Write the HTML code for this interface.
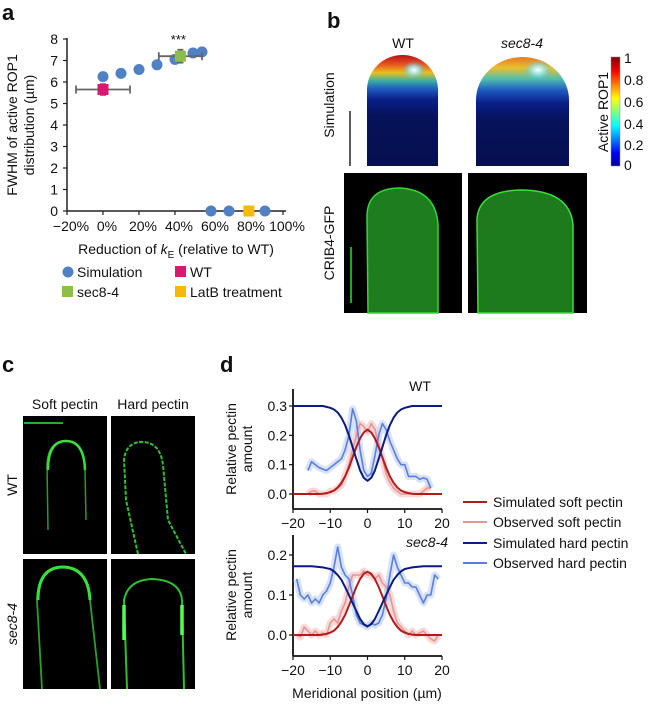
<!DOCTYPE html>
<html><head><meta charset="utf-8"><style>
body{margin:0;background:#fff;}
svg text{font-family:"Liberation Sans",Arial,sans-serif;fill:#111;}
</style></head><body>
<svg id="fig" width="654" height="703" viewBox="0 0 654 703" xmlns="http://www.w3.org/2000/svg">
<defs>
<linearGradient id="simg" x1="0" y1="0" x2="0" y2="1">
<stop offset="0" stop-color="#b5121b"/><stop offset="0.08" stop-color="#e8501c"/><stop offset="0.16" stop-color="#e8c020"/><stop offset="0.23" stop-color="#3fb0a0"/><stop offset="0.3" stop-color="#1f5fc0"/><stop offset="0.4" stop-color="#0a1f8a"/><stop offset="0.55" stop-color="#06125a"/><stop offset="1" stop-color="#06104f"/>
</linearGradient>
<linearGradient id="simg2" x1="0" y1="0" x2="0" y2="1">
<stop offset="0" stop-color="#e87a20"/><stop offset="0.1" stop-color="#e8c030"/><stop offset="0.2" stop-color="#50c0b0"/><stop offset="0.3" stop-color="#1f5fc0"/><stop offset="0.42" stop-color="#0a1f8a"/><stop offset="0.58" stop-color="#06125a"/><stop offset="1" stop-color="#06104f"/>
</linearGradient>
<radialGradient id="glow"><stop offset="0" stop-color="#ffffff"/><stop offset="0.4" stop-color="#a0f0ff" stop-opacity="0.8"/><stop offset="1" stop-color="#40c0ff" stop-opacity="0"/></radialGradient>
<linearGradient id="cbar" x1="0" y1="1" x2="0" y2="0">
<stop offset="0" stop-color="#00008f"/><stop offset="0.12" stop-color="#0000ff"/><stop offset="0.37" stop-color="#00ffff"/><stop offset="0.62" stop-color="#ffff00"/><stop offset="0.87" stop-color="#ff0000"/><stop offset="1" stop-color="#800000"/>
</linearGradient>
</defs>

<!-- Panel a -->
<g id="panel-a">
<text x="2" y="20" font-size="22" font-weight="bold">a</text>
<g id="a-axes"></g>
<text transform="translate(17,125) rotate(-90)" text-anchor="middle" font-size="14">FWHM of active ROP1</text>
<text transform="translate(34,125) rotate(-90)" text-anchor="middle" font-size="14">distribution (µm)</text>
<text x="176" y="254" text-anchor="middle" font-size="14">Reduction of <tspan font-style="italic">k</tspan><tspan font-size="10" dy="4">E</tspan><tspan dy="-4"> (relative to WT)</tspan></text>
<g>
<circle cx="68" cy="272" r="5.5" fill="#4f81c4"/>
<text x="77" y="277" font-size="14">Simulation</text>
<rect x="175" y="266" width="11" height="11" fill="#d8196f"/>
<text x="190" y="277" font-size="14">WT</text>
<rect x="62" y="286" width="11" height="11" fill="#8cbf4a"/>
<text x="77" y="297" font-size="14">sec8-4</text>
<rect x="175" y="286" width="11" height="11" fill="#f6b90a"/>
<text x="190" y="297" font-size="14">LatB treatment</text>
</g>
</g>

<!-- Panel b -->
<g id="panel-b">
<text x="327" y="28" font-size="22" font-weight="bold">b</text>
<text x="403" y="48" text-anchor="middle" font-size="14">WT</text>
<text x="522" y="48" text-anchor="middle" font-size="14" font-style="italic">sec8-4</text>
<text transform="translate(334,105) rotate(-90)" text-anchor="middle" font-size="14">Simulation</text>
<text transform="translate(334,243) rotate(-90)" text-anchor="middle" font-size="14">CRIB4-GFP</text>
<line x1="350" y1="111" x2="350" y2="166" stroke="#222" stroke-width="1.5"/>
<g>
<path d="M367,166 L367,90 A35.5,35 0 0 1 438,90 L438,166 Z" fill="url(#simg)"/>
<ellipse cx="414" cy="70" rx="12" ry="9" fill="url(#glow)"/>
</g>
<g>
<path d="M476,166 L476,100 A46.5,43 0 0 1 569,100 L569,166 Z" fill="url(#simg2)"/>
<ellipse cx="538" cy="70" rx="14" ry="10" fill="url(#glow)"/>
</g>
<rect x="611" y="57" width="9" height="109" fill="url(#cbar)" stroke="#88a" stroke-width="0.5"/>
<g font-size="14">
<text x="624" y="63">1</text><text x="624" y="85">0.8</text><text x="624" y="107">0.6</text><text x="624" y="129">0.4</text><text x="624" y="150">0.2</text><text x="624" y="170">0</text>
</g>
<text transform="translate(608,112) rotate(-90)" text-anchor="middle" font-size="14">Active ROP1</text>
<g>
<rect x="344" y="173" width="118" height="140" fill="#000"/>
<path d="M368,313 L367,215 Q368,188 400,188 Q436,190 438,225 L438,313 Z" fill="#1e7d1e" stroke="#36d636" stroke-width="1.5"/>
<line x1="351" y1="247" x2="351" y2="303" stroke="#2ee02e" stroke-width="1.5"/>
</g>
<g>
<rect x="468" y="173" width="119" height="140" fill="#000"/>
<path d="M478,313 L477,220 Q478,191 520,190 Q570,190 573,225 L573,313 Z" fill="#1d7a1d" stroke="#3ae03a" stroke-width="1.5"/>
</g>
</g>

<!-- Panel c -->
<g id="panel-c">
<text x="2" y="372" font-size="22" font-weight="bold">c</text>
<text x="65" y="409" text-anchor="middle" font-size="14">Soft pectin</text>
<text x="153" y="409" text-anchor="middle" font-size="14">Hard pectin</text>
<text transform="translate(17,485) rotate(-90)" text-anchor="middle" font-size="14">WT</text>
<text transform="translate(17,624) rotate(-90)" text-anchor="middle" font-size="14" font-style="italic">sec8-4</text>
<g>
<rect x="23" y="416" width="84" height="138" fill="#000"/>
<path d="M48,530 L47,465 Q48,441 66,441 Q84,441 85,470 L86,520" fill="none" stroke="#2a9a2a" stroke-width="1.5"/>
<path d="M48,470 Q48,441 66,441 Q84,441 85,470" fill="none" stroke="#3ae03a" stroke-width="2.5"/>
<line x1="24" y1="423" x2="63" y2="423" stroke="#3ae03a" stroke-width="1.5"/>
</g>
<g>
<rect x="111" y="416" width="84" height="138" fill="#000"/>
<path d="M138,554 L126,500 L124,460 Q126,442 142,442 Q160,442 163,465 L168,520 L186,554" fill="none" stroke="#30c030" stroke-width="2" stroke-dasharray="4 1.5"/>
</g>
<g>
<rect x="23" y="559" width="84" height="130" fill="#000"/>
<path d="M42,689 L37,600 Q38,568 62,567 Q88,567 90,600 L100,689" fill="none" stroke="#2aa02a" stroke-width="1.8"/>
<path d="M38,600 Q38,568 62,567 Q88,567 90,600" fill="none" stroke="#3ae03a" stroke-width="3"/>
</g>
<g>
<rect x="111" y="559" width="84" height="130" fill="#000"/>
<path d="M127,689 L124,600 Q128,580 152,579 Q180,580 182,600 L184,689" fill="none" stroke="#30c030" stroke-width="2"/>
<line x1="124" y1="605" x2="124" y2="640" stroke="#50ff50" stroke-width="3.5"/>
<line x1="182" y1="605" x2="182" y2="635" stroke="#50ff50" stroke-width="3.5"/>
</g>
</g>

<!-- Panel d -->
<g id="panel-d">
<text x="220" y="372" font-size="22" font-weight="bold">d</text>
<text x="420" y="391" text-anchor="middle" font-size="14">WT</text>
<text x="427" y="547" text-anchor="middle" font-size="14" font-style="italic">sec8-4</text>
<text transform="translate(236,449) rotate(-90)" text-anchor="middle" font-size="14">Relative pectin</text>
<text transform="translate(252,449) rotate(-90)" text-anchor="middle" font-size="14">amount</text>
<text transform="translate(236,595) rotate(-90)" text-anchor="middle" font-size="14">Relative pectin</text>
<text transform="translate(252,595) rotate(-90)" text-anchor="middle" font-size="14">amount</text>
<text x="367" y="698" text-anchor="middle" font-size="14">Meridional position (µm)</text>
<g id="d-top"></g><g id="d-bot"></g>
<g>
<line x1="463" y1="502" x2="487" y2="502" stroke="#b01c1c" stroke-width="2"/><text x="493" y="507" font-size="14">Simulated soft pectin</text>
<line x1="463" y1="522" x2="487" y2="522" stroke="#e89494" stroke-width="2"/><text x="493" y="527" font-size="14">Observed soft pectin</text>
<line x1="463" y1="543" x2="487" y2="543" stroke="#0c1c7e" stroke-width="2"/><text x="493" y="548" font-size="14">Simulated hard pectin</text>
<line x1="463" y1="563" x2="487" y2="563" stroke="#5a7ede" stroke-width="2"/><text x="493" y="568" font-size="14">Observed hard pectin</text>
</g>
</g>
</svg>
<script>
// ---- Panel a data ----
const simX = [0, 10, 20, 30, 40, 50, 55, 60, 70, 90];
const simY = [6.25, 6.4, 6.58, 6.8, 7.05, 7.35, 7.4, 0, 0, 0];
const wtX = [0], wtY = [5.65], wtXerr = [15], wtYerr = [0.25];
const secX = [43], secY = [7.2], secXerrLo = [12], secXerrHi = [12], secYerr = [0.3];
const latX = [81], latY = [0];
const aYTicks = [0, 1, 2, 3, 4, 5, 6, 7, 8];
const aXTicks = [-20, 0, 20, 40, 60, 80, 100];

// ---- Panel d data ----
const dSimX = [-20,-19,-18,-17,-16,-15,-14,-13,-12,-11,-10,-9,-8,-7,-6,-5,-4,-3,-2,-1,0,1,2,3,4,5,6,7,8,9,10,11,12,13,14,15,16,17,18,19,20];
const wtSimSoft = [0,0,0,0,0,0,0,0,0.001,0.003,0.006,0.012,0.022,0.038,0.06,0.09,0.125,0.16,0.19,0.21,0.22,0.21,0.19,0.16,0.125,0.09,0.06,0.038,0.022,0.012,0.006,0.003,0.001,0,0,0,0,0,0,0,0];
const wtSimHard = [0.3,0.3,0.3,0.3,0.3,0.3,0.3,0.3,0.3,0.297,0.294,0.288,0.278,0.26,0.235,0.2,0.16,0.12,0.08,0.055,0.045,0.055,0.08,0.12,0.16,0.2,0.235,0.26,0.278,0.288,0.294,0.297,0.3,0.3,0.3,0.3,0.3,0.3,0.3,0.3,0.3];
const secSimSoft = [0,0,0,0,0,0,0,0,0.001,0.003,0.006,0.011,0.02,0.033,0.05,0.073,0.097,0.12,0.14,0.153,0.158,0.153,0.14,0.12,0.097,0.073,0.05,0.033,0.02,0.011,0.006,0.003,0.001,0,0,0,0,0,0,0,0];
const secSimHard = [0.172,0.172,0.172,0.172,0.172,0.172,0.171,0.17,0.169,0.167,0.165,0.159,0.15,0.138,0.12,0.1,0.08,0.06,0.04,0.027,0.022,0.027,0.04,0.06,0.08,0.1,0.12,0.138,0.15,0.159,0.165,0.167,0.169,0.17,0.171,0.172,0.172,0.172,0.172,0.172,0.172];
const wtObsX = [-16,-15,-14,-13,-12,-11,-10,-9,-8,-7,-6,-5,-4,-3,-2,-1,0,1,2,3,4,5,6,7,8,9,10,11,12,13,14,15,16,17];
const wtObsHard = [0.08,0.11,0.1,0.09,0.085,0.08,0.09,0.1,0.11,0.12,0.15,0.2,0.29,0.25,0.15,0.08,0.06,0.07,0.13,0.2,0.24,0.22,0.18,0.15,0.12,0.1,0.1,0.06,0.06,0.06,0.05,0.055,0.05,0.02];
const wtObsSoft = [0,0.01,0.01,0,0,0,0.01,0.01,0.02,0.03,0.06,0.1,0.15,0.2,0.24,0.23,0.21,0.24,0.22,0.17,0.12,0.07,0.04,0.02,0.01,0,0,0,0,0,0,0.01,0.02,0.02];
const secObsX = [-19,-18,-17,-16,-15,-14,-13,-12,-11,-10,-9,-8,-7,-6,-5,-4,-3,-2,-1,0,1,2,3,4,5,6,7,8,9,10,11,12,13,14,15,16,17,18,19];
const secObsHard = [0.14,0.1,0.09,0.1,0.08,0.09,0.08,0.1,0.11,0.13,0.17,0.22,0.17,0.15,0.14,0.1,0.05,0.03,0.025,0.02,0.03,0.025,0.03,0.05,0.09,0.15,0.2,0.17,0.15,0.13,0.13,0.12,0.12,0.1,0.08,0.1,0.1,0.15,0.14];
const secObsSoft = [0,-0.005,0.02,0.01,0,0.01,0,0.005,0,0.03,0.04,0.03,0.06,0.08,0.12,0.15,0.15,0.15,0.16,0.15,0.15,0.14,0.15,0.13,0.12,0.1,0.06,0.03,0.02,0.01,0,0.01,0,0.005,0.01,0,-0.01,-0.015,0];
const dXTicks = [-20, -10, 0, 10, 20];
const dTopYTicks = [0.0, 0.1, 0.2, 0.3];
const dBotYTicks = [0.0, 0.1, 0.2];

const NS = 'http://www.w3.org/2000/svg';
function mk(tag, attrs, parent) {
  const e = document.createElementNS(NS, tag);
  for (const k in attrs) e.setAttribute(k, attrs[k]);
  parent.appendChild(e);
  return e;
}

// Panel a scales
const xa = p => 103 + p * 1.8;
const ya = v => 211 - v * 21.5;
const ga = document.getElementById('a-axes');
let ax = mk('line', {x1: 67, y1: 211, x2: 286, y2: 211, stroke: '#222', 'stroke-width': 1.5}, ga);


let ay = mk('line', {x1: 67, y1: 38, x2: 67, y2: 211, stroke: '#222', 'stroke-width': 1.5}, ga);


aYTicks.forEach(v => {
  const t = mk('line', {x1: 63, y1: ya(v), x2: 67, y2: ya(v), stroke: '#222', 'stroke-width': 1.2}, ga);
  
  
  const l = mk('text', {x: 58, y: ya(v) + 5, 'text-anchor': 'end', 'font-size': 14}, ga);
  l.textContent = v;
  
  
});
aXTicks.forEach(p => {
  const t = mk('line', {x1: xa(p), y1: 211, x2: xa(p), y2: 215, stroke: '#222', 'stroke-width': 1.2}, ga);
  
  
  const l = mk('text', {x: xa(p) + 4, y: 231, 'text-anchor': 'middle', 'font-size': 14}, ga);
  l.textContent = (p < 0 ? '\u2212' + (-p) : p) + '%';
  
  
});
function errbar(x0, x1, y, ylo, yhi, xc) {
  const g = mk('g', {stroke: '#666', 'stroke-width': 1.8}, ga);
  
  
  mk('line', {x1: xa(x0), y1: ya(y), x2: xa(x1), y2: ya(y)}, g);
  mk('line', {x1: xa(x0), y1: ya(y) - 4, x2: xa(x0), y2: ya(y) + 4}, g);
  mk('line', {x1: xa(x1), y1: ya(y) - 4, x2: xa(x1), y2: ya(y) + 4}, g);
  mk('line', {x1: xa(xc), y1: ya(ylo), x2: xa(xc), y2: ya(yhi)}, g);
  mk('line', {x1: xa(xc) - 3, y1: ya(ylo), x2: xa(xc) + 3, y2: ya(ylo)}, g);
  mk('line', {x1: xa(xc) - 3, y1: ya(yhi), x2: xa(xc) + 3, y2: ya(yhi)}, g);
}
simX.forEach((p, i) => {
  const c = mk('circle', {cx: xa(p), cy: ya(simY[i]), r: 5.5, fill: '#4f81c4'}, ga);
  
  
});
wtX.forEach((p, i) => {
  errbar(p - wtXerr[i], p + wtXerr[i], wtY[i], wtY[i] - wtYerr[i], wtY[i] + wtYerr[i], p);
  const r = mk('rect', {x: xa(p) - 5.5, y: ya(wtY[i]) - 5.5, width: 11, height: 11, fill: '#d8196f'}, ga);
  
  
});
secX.forEach((p, i) => {
  errbar(p - secXerrLo[i], p + secXerrHi[i], secY[i], secY[i] - secYerr[i], secY[i] + secYerr[i], p);
  const r = mk('rect', {x: xa(p) - 5.5, y: ya(secY[i]) - 5.5, width: 11, height: 11, fill: '#8cbf4a'}, ga);
  
  
  const s = mk('text', {x: xa(p) - 2, y: ya(secY[i]) - 12, 'text-anchor': 'middle', 'font-size': 13}, ga);
  s.textContent = '***';
  
  
});
latX.forEach((p, i) => {
  const r = mk('rect', {x: xa(p) - 5.5, y: ya(latY[i]) - 5.5, width: 11, height: 11, fill: '#f6b90a'}, ga);
  
  
});

// Panel d
const xd = v => 367.5 + v * 3.725;
function drawD(gid, y0px, pxPerUnit, yTop, yBot, yTicks, obsX, obsSoft, obsHard, simSoft, simHard) {
  const g = document.getElementById(gid);
  const yd = v => y0px - v * pxPerUnit;
  const xl = mk('line', {x1: 293, y1: yBot, x2: 442, y2: yBot, stroke: '#111', 'stroke-width': 1.8}, g);
  
  
  const yl = mk('line', {x1: 293, y1: yTop, x2: 293, y2: yBot, stroke: '#111', 'stroke-width': 1.8}, g);
  
  
  yTicks.forEach(v => {
    const t = mk('line', {x1: 289, y1: yd(v), x2: 293, y2: yd(v), stroke: '#111', 'stroke-width': 1.2}, g);
    
    
    const l = mk('text', {x: 287, y: yd(v) + 5, 'text-anchor': 'end', 'font-size': 14}, g);
    l.textContent = v.toFixed(1);
    
    
  });
  dXTicks.forEach(v => {
    const t = mk('line', {x1: xd(v), y1: yBot, x2: xd(v), y2: yBot + 4, stroke: '#111', 'stroke-width': 1.2}, g);
    
    
    const l = mk('text', {x: xd(v), y: yBot + 19, 'text-anchor': 'middle', 'font-size': 14}, g);
    l.textContent = v < 0 ? '\u2212' + (-v) : v;
    
    
  });
  const path = (xs, ys) => xs.map((x, i) => (i ? 'L' : 'M') + xd(x).toFixed(1) + ',' + yd(ys[i]).toFixed(1)).join(' ');
  const series = [
    [obsSoft, obsX, '#f4c0c0', 7, 0.6, 'observed-soft-band'],
    [obsHard, obsX, '#bccdf4', 7, 0.6, 'observed-hard-band'],
    [obsSoft, obsX, '#e89494', 1.6, 1, 'observed-soft-line'],
    [obsHard, obsX, '#5a7ede', 1.6, 1, 'observed-hard-line'],
    [simSoft, dSimX, '#b01c1c', 2, 1, 'simulated-soft-line'],
    [simHard, dSimX, '#0c1c7e', 2, 1, 'simulated-hard-line']
  ];
  series.forEach(s => {
    const p = mk('path', {d: path(s[1], s[0]), fill: 'none', stroke: s[2], 'stroke-width': s[3], opacity: s[4], 'stroke-linejoin': 'round'}, g);
    
    
  });
}
drawD('d-top', 494, 293.3, 389, 509, dTopYTicks, wtObsX, wtObsSoft, wtObsHard, wtSimSoft, wtSimHard);
drawD('d-bot', 635, 400, 535, 656, dBotYTicks, secObsX, secObsSoft, secObsHard, secSimSoft, secSimHard);
</script>
</body></html>
